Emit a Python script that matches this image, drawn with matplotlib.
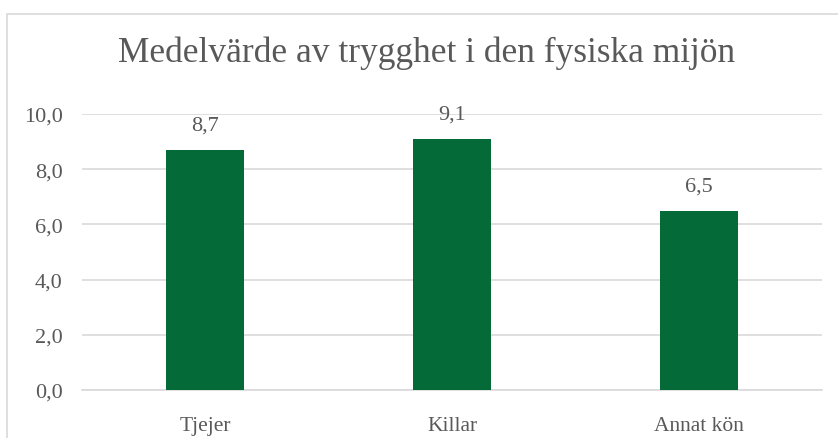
import matplotlib.pyplot as plt
from matplotlib.patches import Rectangle
from matplotlib.ticker import FuncFormatter

# data
categories = ['Tjejer', 'Killar', 'Annat kön']
values = [8.7, 9.1, 6.5]
y_ticks = [0, 2, 4, 6, 8, 10]
title = 'Medelvärde av trygghet i den fysiska mijön'

bar_color = '#046A38'
text_color = '#595959'
grid_color = '#D9D9D9'

plt.rcParams['font.family'] = ['Liberation Serif', 'DejaVu Serif']

W, H = 838, 439
fig = plt.figure(figsize=(W / 100, H / 100), dpi=100)

# chart frame (runs off the right and bottom edge like the screenshot)
fig.patches.append(Rectangle((7 / W, -0.1), 1.0, (H - 15) / H + 0.1,
                             transform=fig.transFigure, fill=False,
                             edgecolor=grid_color, linewidth=1.2))

ax = fig.add_axes([82 / W, 48 / H, 740 / W, 276 / H])
x = range(len(categories))
bars = ax.bar(x, values, width=0.316, color=bar_color, zorder=3)

ax.set_xlim(-0.5, len(categories) - 0.5)
ax.set_ylim(0, 10)
ax.set_yticks(y_ticks)
ax.yaxis.set_major_formatter(FuncFormatter(lambda v, p: f'{v:.1f}'.replace('.', ',')))
ax.set_xticks(list(x))
ax.set_xticklabels(categories)

ax.grid(axis='y', color=grid_color, linewidth=1.2, zorder=0)
for s in ['top', 'right', 'left']:
    ax.spines[s].set_visible(False)
ax.spines['bottom'].set_color(grid_color)
ax.spines['bottom'].set_linewidth(1.2)
ax.tick_params(axis='both', length=0, colors=text_color, labelsize=16)
ax.tick_params(axis='y', pad=14)
ax.tick_params(axis='x', pad=19)
for lbl in ax.get_xticklabels():
    lbl.set_fontsize(15.5)

for b, v in zip(bars, values):
    ax.annotate(f'{v:.1f}'.replace('.', ','), (b.get_x() + b.get_width() / 2, v),
                xytext=(0, 11), textcoords='offset points', ha='center', va='bottom',
                fontsize=16, color=text_color)

fig.text(427 / W, 1 - 53 / H, title, ha='center', va='center', fontsize=25.5, color=text_color)

fig.savefig('out.png', dpi=100)
